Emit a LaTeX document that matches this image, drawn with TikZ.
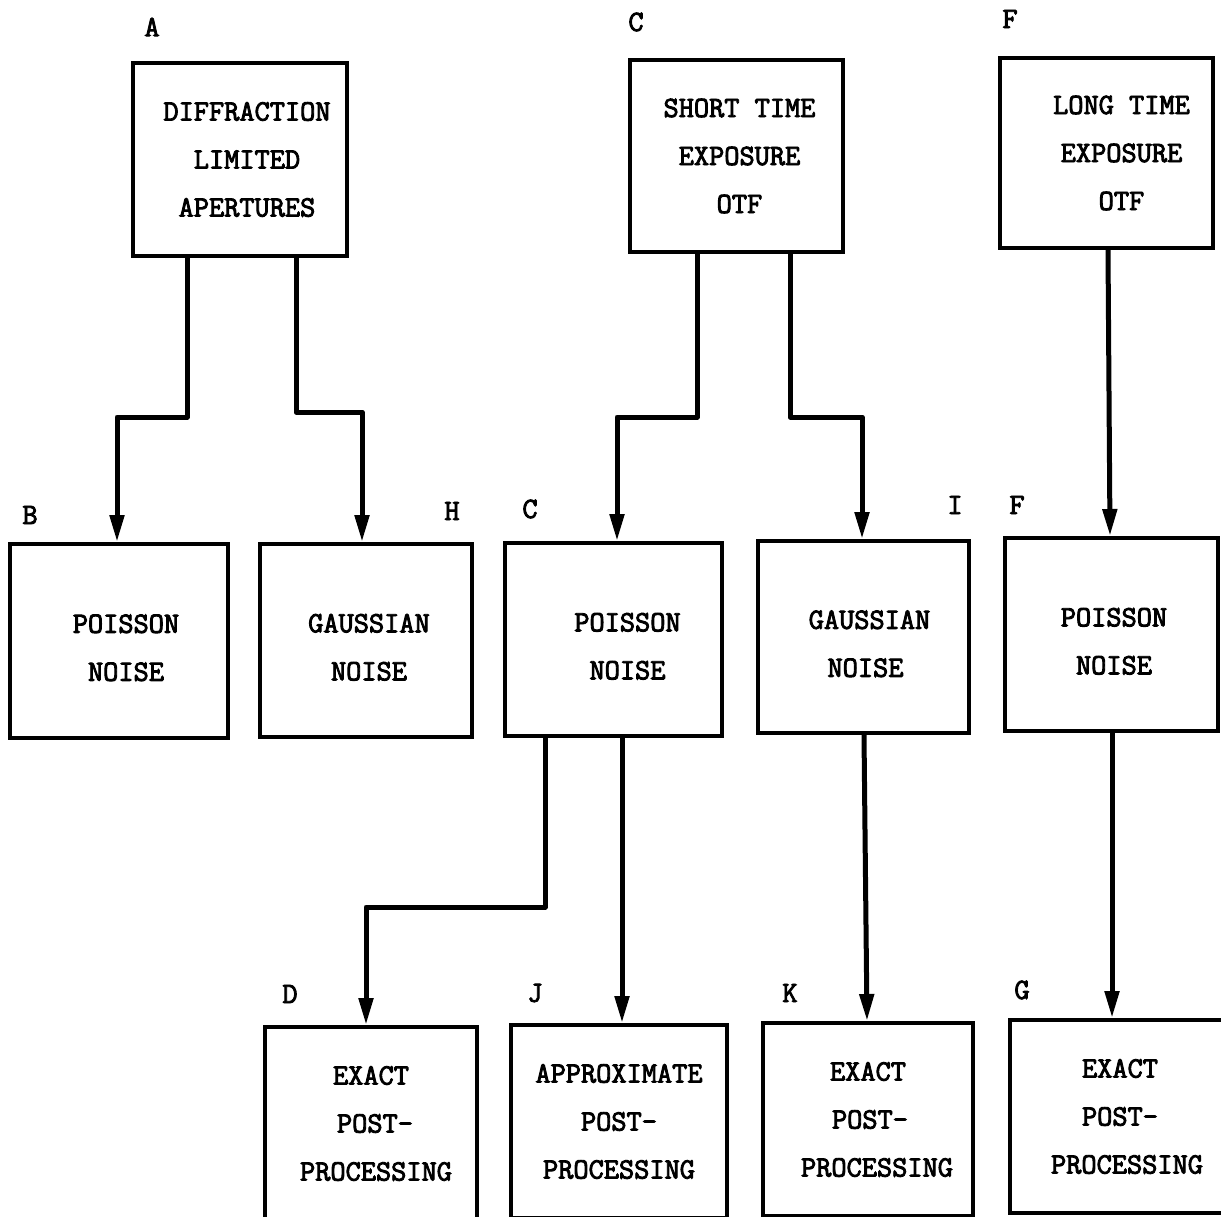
\documentclass[tikz,border=0pt]{standalone}
\usepackage{fontspec}
\usetikzlibrary{arrows.meta}
\newfontfamily\twfont{Latin Modern Mono}[FakeBold=3]
\newcommand\sh[1]{\hspace*{#1pt}}
\newcommand\dn{\rule{0pt}{32pt}}
\begin{document}
\begin{tikzpicture}[x=1pt,y=-1pt,
  txt/.style={font=\fontsize{29.5}{48}\selectfont\twfont},
  box/.style={draw,line width=4pt,align=center,inner sep=0pt,txt},
  lab/.style={txt,inner sep=0pt},
  conn/.style={line width=5pt,-{Triangle[length=27pt,width=14pt]},line join=round}]
\useasboundingbox (0,0) rectangle (1221,1217);
\clip (0,0) rectangle (1221,1217);
\fill[white] (0,0) rectangle (1221,1217);
% top row
\node[box,minimum width=214pt,minimum height=193pt] (A) at (240,159.5) {\sh{14}DIFFRACTION\\\sh{14}LIMITED\\\sh{14}APERTURES};
\node[box,minimum width=213pt,minimum height=192pt] (C1) at (736.5,156) {\sh{6}SHORT TIME\\\sh{6}EXPOSURE\\\sh{6}OTF};
\node[box,minimum width=213pt,minimum height=190pt] (F1) at (1106.5,153) {\sh{30}LONG TIME\\\sh{30}EXPOSURE\\\sh{30}OTF};
% middle row
\node[box,minimum width=218pt,minimum height=194pt] (B) at (119,641) {\dn\sh{14}POISSON\\\sh{14}NOISE};
\node[box,minimum width=212pt,minimum height=193pt] (H) at (366,640.5) {\dn\sh{6}GAUSSIAN\\\sh{6}NOISE};
\node[box,minimum width=217pt,minimum height=193pt] (C2) at (613.5,639.5) {\dn\sh{28}POISSON\\\sh{28}NOISE};
\node[box,minimum width=211pt,minimum height=192pt] (I) at (863.5,637) {\dn\sh{12}GAUSSIAN\\\sh{4}NOISE};
\node[box,minimum width=213pt,minimum height=193pt] (F2) at (1111.5,634.5) {\dn\sh{5}POISSON\\\sh{5}NOISE};
% bottom row
\node[box,minimum width=212pt,minimum height=193pt] (D) at (371,1123.5) {EXACT\\\sh{8}POST-\\\sh{10}PROCESSING};
\node[box,minimum width=216pt,minimum height=193pt] (J) at (619,1121.5) {APPROXIMATE\\POST-\\PROCESSING};
\node[box,minimum width=210pt,minimum height=193pt] (K) at (868,1119.5) {EXACT\\\sh{4}POST-\\\sh{18}PROCESSING};
\node[box,minimum width=214pt,minimum height=193pt] (G) at (1117,1116.5) {\sh{6}EXACT\\\sh{6}POST-\\\sh{20}PROCESSING};
% letter labels
\node[lab] (lA) at (152,27) {A};
\node[lab] (lC1) at (636,22) {C};
\node[lab] (lF1) at (1010,19) {F};
\node[lab] (lB) at (30,515) {B};
\node[lab] (lH) at (452,511) {H};
\node[lab] (lC2) at (530,509) {C};
\node[lab] (lI) at (955,505) {I};
\node[lab] (lF2) at (1017,505) {F};
\node[lab] (lD) at (290,994) {D};
\node[lab] (lJ) at (535,993) {J};
\node[lab] (lK) at (790,993) {K};
\node[lab] (lG) at (1022,990) {G};
% connectors
\draw[conn] ([xshift=-53pt]A.south) -- ++(0,159) -| ([xshift=-2pt]B.north);
\draw[conn] ([xshift=56pt]A.south) -- ++(0,154) -| ([xshift=-4pt]H.north);
\draw[conn] ([xshift=-39.5pt]C1.south) -- ++(0,163) -| ([xshift=3.5pt]C2.north);
\draw[conn] ([xshift=53.5pt]C1.south) -- ++(0,163) -| ([xshift=-1.5pt]I.north);
\draw[conn] ([xshift=1.5pt]F1.south) -- ([xshift=-1.5pt]F2.north);
\draw[conn] ([xshift=-68.5pt]C2.south) -- ++(0,169) -| ([xshift=-5pt]D.north);
\draw[conn] ([xshift=8.5pt]C2.south) -- ([xshift=3pt]J.north);
\draw[conn] ([xshift=0.5pt]I.south) -- ([xshift=-1pt]K.north);
\draw[conn] ([xshift=0.5pt]F2.south) -- ([xshift=-5pt]G.north);
\end{tikzpicture}
\end{document}
